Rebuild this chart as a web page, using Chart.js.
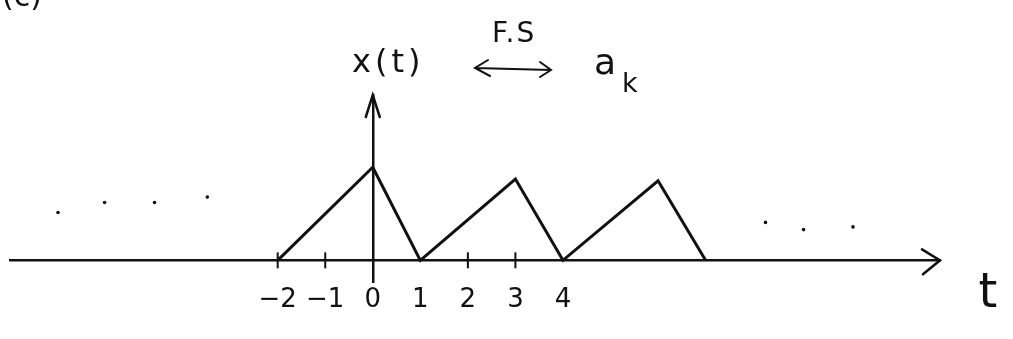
<!DOCTYPE html>
<html>
<head>
<meta charset="utf-8">
<script src="https://cdn.jsdelivr.net/npm/chart.js@4.4.1/dist/chart.umd.min.js"></script>
<style>
  html, body { margin: 0; padding: 0; background: #fff; }
  canvas { display: block; }
</style>
</head>
<body>
<canvas id="sketch" width="1013" height="339"></canvas>
<script>
// periodic triangle wave, period 3
var tSignal = [-2, 0, 1, 3, 4, 6, 7];
var xSignal = [0, 1.03, 0, 0.9, 0, 0.88, 0];

// tick labels on the t axis
var tickValues = [-2, -1, 0, 1, 2, 3, 4];
var tickText = ['\u22122', '\u22121', '0', '1', '2', '3', '4'];

// little tick marks crossing the axis
var markT = [-2, -1, 2, 3];

// the "..." continuation dots on both sides
var dotsT = [-6.62, -5.64, -4.59, -3.48, 8.26, 9.06, 10.1];
var dotsX = [0.53, 0.64, 0.64, 0.70, 0.42, 0.34, 0.37];

var tMin = -7.63, tMax = 11.93;
var xMin = -0.24, xMax = 1.83;

var ink = '#111';
var hand = '"DejaVu Sans", sans-serif';

function pts(xs, ys){
  var out = [];
  for (var i = 0; i < xs.length; i++) out.push({x: xs[i], y: ys[i]});
  return out;
}

// arrow heads on both axes, plus the handwritten notes
var sketchNotes = {
  id: 'sketchNotes',
  afterDraw: function(chart){
    var ctx = chart.ctx;
    var sx = chart.scales.x, sy = chart.scales.y;
    var x0 = sx.getPixelForValue(0), y0 = sy.getPixelForValue(0);
    var xEnd = sx.getPixelForValue(tMax), yTop = sy.getPixelForValue(xMax);
    ctx.save();
    ctx.strokeStyle = ink;
    ctx.fillStyle = ink;
    ctx.lineWidth = 2.5;
    ctx.lineCap = 'round';
    // t axis arrow
    ctx.beginPath();
    ctx.moveTo(xEnd - 18, y0 - 11);
    ctx.lineTo(xEnd, y0);
    ctx.lineTo(xEnd - 17, y0 + 14);
    ctx.stroke();
    // x(t) axis arrow
    ctx.beginPath();
    ctx.moveTo(x0 - 7, yTop + 22);
    ctx.lineTo(x0, yTop);
    ctx.lineTo(x0 + 7, yTop + 22);
    ctx.stroke();

    ctx.textBaseline = 'alphabetic';
    ctx.textAlign = 'left';
    ctx.font = '30px ' + hand;
    ctx.fillText('(c)', 2, 6);

    ctx.font = '32px ' + hand;
    ctx.letterSpacing = '4px';
    ctx.fillText('x(t)', 352, 72);
    ctx.letterSpacing = '2px';
    ctx.font = '28px ' + hand;
    ctx.fillText('F.S', 492, 42);
    ctx.letterSpacing = '0px';

    // double arrow between x(t) and a_k
    ctx.lineWidth = 2;
    ctx.beginPath();
    ctx.moveTo(475, 68); ctx.lineTo(551, 70);
    ctx.moveTo(488, 60); ctx.lineTo(475, 68); ctx.lineTo(490, 76);
    ctx.moveTo(540, 62); ctx.lineTo(551, 70); ctx.lineTo(540, 77);
    ctx.stroke();

    ctx.font = '36px ' + hand;
    ctx.fillText('a', 594, 74);
    ctx.font = '27px ' + hand;
    ctx.fillText('k', 622, 92);

    ctx.font = '48px ' + hand;
    ctx.textAlign = 'center';
    ctx.fillText('t', 988, 307);
    ctx.restore();
  }
};

var chart = new Chart(document.getElementById('sketch'), {
  type: 'scatter',
  data: {
    datasets: [{
      label: 'x(t)',
      data: pts(tSignal, xSignal),
      showLine: true,
      borderColor: ink,
      borderWidth: 3,
      pointRadius: 0,
      tension: 0
    }, {
      label: 'ticks',
      data: pts(markT, markT.map(function(){ return 0; })),
      pointStyle: 'line',
      rotation: 90,
      pointRadius: 8,
      borderColor: ink,
      borderWidth: 2
    }, {
      label: 'dots',
      data: pts(dotsT, dotsX),
      pointStyle: 'circle',
      pointRadius: 1.8,
      backgroundColor: ink,
      borderColor: ink,
      borderWidth: 0
    }]
  },
  options: {
    responsive: false,
    animation: false,
    layout: { padding: { left: 7, right: 73, top: 95, bottom: 57 } },
    plugins: { legend: { display: false }, tooltip: { enabled: false } },
    scales: {
      x: {
        type: 'linear',
        min: tMin, max: tMax,
        position: { y: 0 },
        grid: { display: false, drawTicks: false },
        border: { display: true, color: ink, width: 2.5 },
        afterBuildTicks: function(scale){
          scale.ticks = tickValues.map(function(v){ return {value: v}; });
        },
        ticks: {
          autoSkip: false,
          maxRotation: 0,
          padding: 24,
          color: ink,
          font: { family: hand, size: 26 },
          callback: function(value){
            var i = tickValues.indexOf(value);
            return i >= 0 ? tickText[i] : '';
          }
        }
      },
      y: {
        type: 'linear',
        min: xMin, max: xMax,
        position: { x: 0 },
        grid: { display: false, drawTicks: false },
        border: { display: true, color: ink, width: 2.5 },
        ticks: { display: false }
      }
    }
  },
  plugins: [sketchNotes]
});
</script>
</body>
</html>
